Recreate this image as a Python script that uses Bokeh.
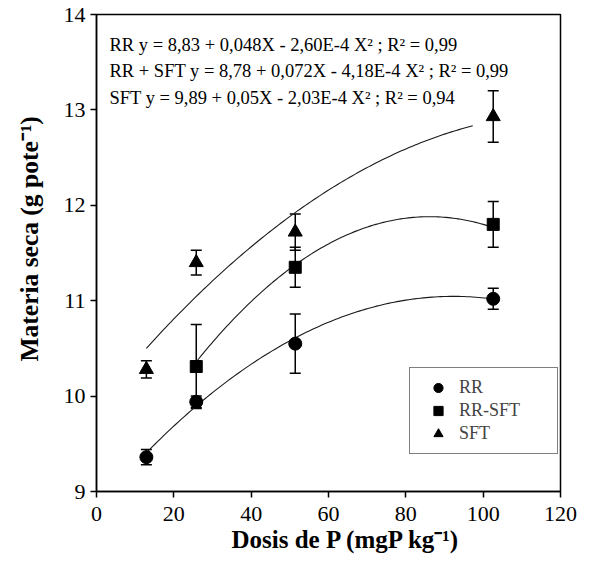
import numpy as np
from bokeh.plotting import figure
from bokeh.models import (ColumnDataSource, Whisker, TeeHead, Label, FixedTicker,
                          Range1d, Legend, LegendItem, Title)
from bokeh.embed import file_html
from bokeh.resources import INLINE

# ---- data (x positions as plotted in the picture) ----
dose = [12.9, 25.8, 51.4, 102.6]
rr = [9.36, 9.94, 10.55, 11.02]
rr_err = [0.08, 0.06, 0.31, 0.11]
dose_rrsft = [25.8, 51.4, 102.6]
rrsft = [10.31, 11.35, 11.80]
rrsft_err = [0.44, 0.21, 0.24]
sft = [10.28, 11.40, 11.72, 12.93]
sft_err = [0.09, 0.13, 0.19, 0.27]

# fitted quadratic curves (coefficients from the chart's equations)
fit_names = ["RR", "RR-SFT", "SFT"]
fit_a = [8.83, 8.78, 9.89]
fit_b = [0.048, 0.072, 0.05]
fit_c = [-2.60e-4, -4.18e-4, -2.03e-4]
fit_start = [12.9, 25.8, 12.9]
fit_end = [102.6, 102.6, 97.3]

equations = [
    "RR y = 8,83 + 0,048X - 2,60E-4 X\u00b2 ; R\u00b2 = 0,99",
    "RR + SFT y = 8,78 + 0,072X - 4,18E-4 X\u00b2 ; R\u00b2 = 0,99",
    "SFT y = 9,89 + 0,05X - 2,03E-4 X\u00b2 ; R\u00b2 = 0,94",
]
x_ticks = [0, 20, 40, 60, 80, 100, 120]
y_ticks = [9, 10, 11, 12, 13, 14]
x_title = "Dosis de P (mgP kg\u207b\u00b9)"
y_title = "Materia seca (g pote\u207b\u00b9)"

FONT = "Liberation Serif"

p = figure(width=580, height=555, output_backend="svg", toolbar_location=None,
           x_range=Range1d(0, 120), y_range=Range1d(9, 14),
           min_border_left=94, min_border_right=20, min_border_top=14,
           min_border_bottom=64)
p.background_fill_color = "white"
p.border_fill_color = "white"
p.grid.visible = False
p.outline_line_color = "black"
p.outline_line_width = 1.5

for ax in (p.xaxis[0], p.yaxis[0]):
    ax.axis_line_width = 1.5
    ax.axis_line_color = "black"
    ax.major_tick_line_width = 1.5
    ax.major_tick_out = 6
    ax.major_tick_in = 0
    ax.minor_tick_line_color = None
    ax.major_label_text_font = FONT
    ax.major_label_text_font_size = "22px"
    ax.major_label_text_color = "black"
p.xaxis[0].ticker = FixedTicker(ticks=x_ticks)
p.yaxis[0].ticker = FixedTicker(ticks=y_ticks)
p.xaxis[0].major_label_standoff = 9
p.yaxis[0].major_label_standoff = 5

# axis titles as side titles
p.add_layout(Title(text=x_title, align="left", offset=135, standoff=0,
                   text_font=FONT, text_font_size="25px", text_font_style="bold",
                   text_color="black"), "below")
p.add_layout(Title(text=y_title, align="left", offset=130, standoff=29,
                   vertical_align="top",
                   text_font=FONT, text_font_size="25.5px", text_font_style="bold",
                   text_color="black"), "left")

# fitted curves
for a, b, c, s, e in zip(fit_a, fit_b, fit_c, fit_start, fit_end):
    xs = np.linspace(s, e, 120)
    ys = a + b * xs + c * xs ** 2
    p.line(xs, ys, line_color="#1a1a1a", line_width=1.1)

# error bars
def add_whisker(xv, yv, ev):
    src = ColumnDataSource(dict(x=xv,
                                upper=[y + d for y, d in zip(yv, ev)],
                                lower=[y - d for y, d in zip(yv, ev)]))
    w = Whisker(source=src, base="x", upper="upper", lower="lower",
                dimension="height", line_color="black", line_width=1.5,
                upper_head=TeeHead(size=11, line_width=1.5, line_color="black"),
                lower_head=TeeHead(size=11, line_width=1.5, line_color="black"))
    p.add_layout(w)

add_whisker(dose, rr, rr_err)
add_whisker(dose_rrsft, rrsft, rrsft_err)
add_whisker(dose, sft, sft_err)

r1 = p.scatter(dose, rr, marker="circle", size=13, fill_color="black", line_color="black")
r2 = p.scatter(dose_rrsft, rrsft, marker="square", size=12, fill_color="black", line_color="black")
r3 = p.scatter(dose, sft, marker="triangle", size=14, fill_color="black", line_color="black")

legend = Legend(items=[LegendItem(label="RR", renderers=[r1]),
                       LegendItem(label="RR-SFT", renderers=[r2]),
                       LegendItem(label="SFT", renderers=[r3])],
                location=(313, 37), margin=0, padding=8, spacing=0,
                glyph_width=40, glyph_height=23, label_height=23,
                label_standoff=1, label_width=90,
                label_text_font=FONT, label_text_font_size="18px",
                border_line_color="black", border_line_width=1.5,
                background_fill_color="white", background_fill_alpha=1)
p.add_layout(legend)

# equations
for i, txt in enumerate(equations):
    p.add_layout(Label(x=13, y=447 - i * 26.5, x_units="screen", y_units="screen",
                       text=txt, text_font=FONT, text_font_size="18.5px",
                       text_baseline="middle", text_align="left", text_color="black"))

open("out.html", "w").write(file_html(p, INLINE))
